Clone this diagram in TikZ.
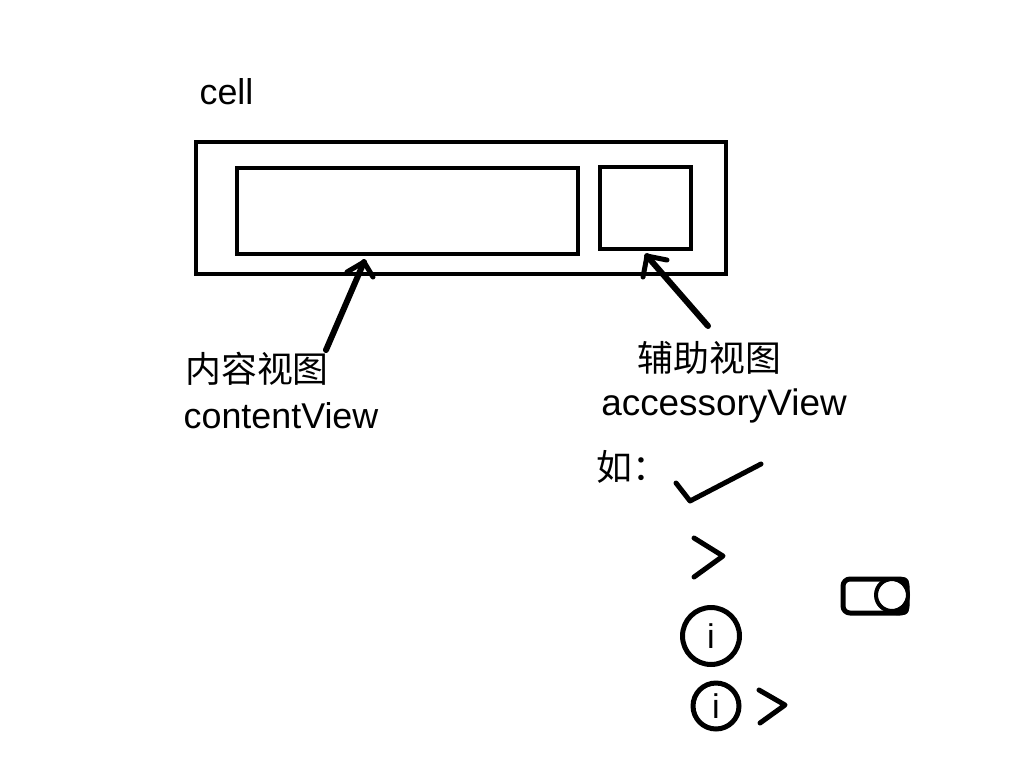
\documentclass[tikz,border=0pt]{standalone}
\usepackage{fontspec}
\setmainfont{Liberation Sans}
\newfontfamily\cjk{Noto Sans CJK SC}
\tikzset{
	viewbox/.style={draw=black, line width=0.085cm, inner sep=0pt, outer sep=0pt},
	label/.style={inner sep=0pt, outer sep=0pt, font=\fontsize{20.4}{24}\selectfont},
	stroke/.style={line width=0.1cm, line join=round, line cap=round},
	infosign/.style={circle, draw=black, line width=0.1cm, inner sep=0pt, font=\fontsize{19.5}{24}\selectfont}
}

\begin{document}
\begin{tikzpicture}[x=0.02cm, y=-0.02cm]
		%%%%% START %%%%%
		\useasboundingbox (0, 0) rectangle (1024, 768);
		
		\node[label] (celllabel) at (226.5, 92) {cell};
		
		\node[viewbox, minimum width=10.6cm, minimum height=2.64cm] (cell) at (461, 208) {};
		\node[viewbox, minimum width=6.82cm, minimum height=1.72cm] (content) at (407.5, 211) {};
		\node[viewbox, minimum width=1.82cm, minimum height=1.64cm] (accessory) at (645.5, 208) {};
		
		\node[label] (contentcn) at (257, 369) {\cjk 内容视图};
		\node[label] (contenten) at (281, 416) {contentView};
		\node[label] (accessorycn) at (709.5, 358) {\cjk 辅助视图};
		\node[label, font=\fontsize{21}{24}\selectfont] (accessoryen) at (724, 406) {accessoryView};
		\node[label] (example) at (632, 467) {\cjk 如：};
		
		\coordinate (contentfrom) at (326, 350);
		\coordinate (contenttip) at (364, 262);
		\coordinate (accessoryfrom) at (708, 326);
		\coordinate (accessorytip) at (647, 256);
		
		\draw[stroke, line width=0.12cm] (contentfrom) -- (contenttip);
		\draw[stroke] (347, 272) -- (contenttip) -- (373, 277);
		\draw[stroke, line width=0.12cm] (accessoryfrom) -- (accessorytip);
		\draw[stroke] (667, 260) -- (accessorytip) -- (643, 277);
		
		\draw[stroke] (676, 483) -- (690, 501) -- (761, 464);
		\draw[stroke] (694, 538) -- (723, 556) -- (694, 577);
		
		\node[infosign, minimum size=1.14cm] (infoone) at (711, 636) {i};
		\node[infosign, minimum size=0.92cm] (infotwo) at (716, 706) {i};
		\draw[stroke] (759, 690) -- (785, 705) -- (760, 723);
		
		\draw[stroke, rounded corners=0.14cm] (843, 579) rectangle (907, 613);
		\fill[rounded corners=0.12cm] (890, 577) rectangle (909, 615);
		\fill[white] (892, 595) circle (14);
		\draw[line width=0.08cm] (892, 595) circle (16);
		
		%%%%% END %%%%%
	\end{tikzpicture}
\end{document}
